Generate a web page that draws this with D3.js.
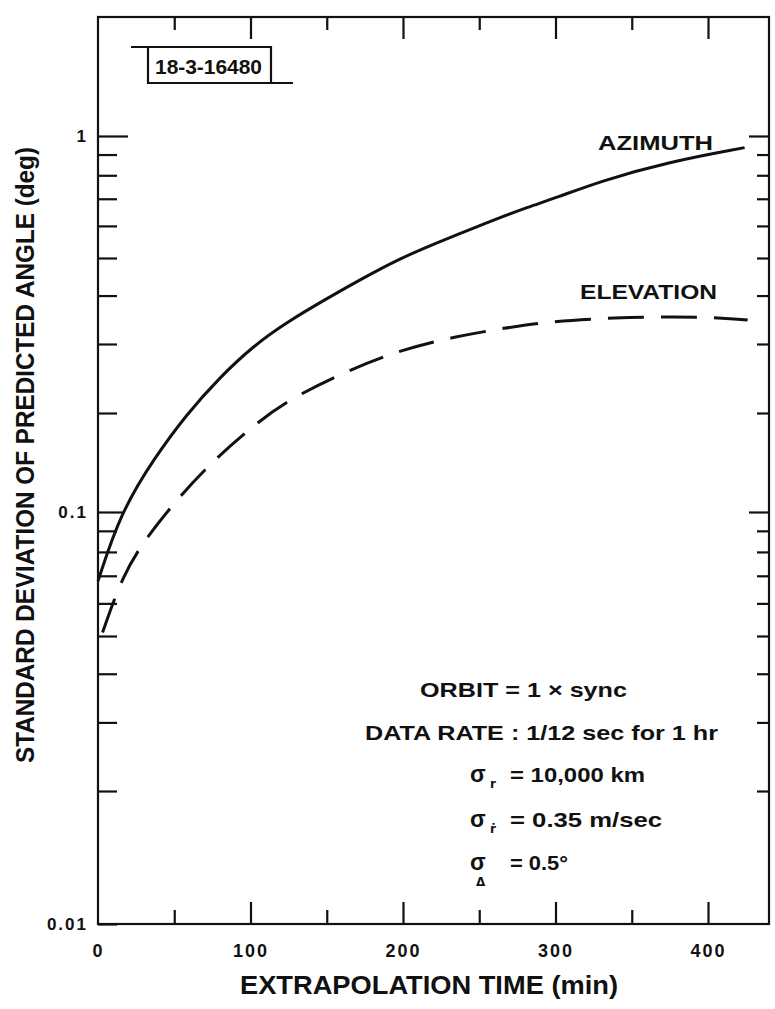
<!DOCTYPE html>
<html>
<head>
<meta charset="utf-8">
<script src="https://cdn.jsdelivr.net/npm/d3@7"></script>
<style>
    body { margin: 0; background: #fff; }
    text { font-family: "Liberation Sans", Arial, sans-serif; font-weight: bold; fill: #111; }
</style>
</head>
<body>
<div id="container"></div>
<script>
// azimuth curve (solid)
const azTime  = [0, 15, 37, 58, 80, 102, 124, 152, 174, 196, 218, 240, 260, 282, 300, 330, 374, 424];
const azValue = [0.068, 0.1, 0.146, 0.198, 0.247, 0.297, 0.342, 0.397, 0.444, 0.494, 0.537, 0.580, 0.622, 0.668, 0.703, 0.775, 0.863, 0.936];

// elevation curve (dashed)
const elTime  = [3, 16, 31, 51, 72, 98, 124, 165, 199, 233, 267, 296, 340, 377, 413, 426];
const elValue = [0.051, 0.07, 0.086, 0.108, 0.138, 0.177, 0.216, 0.258, 0.290, 0.313, 0.330, 0.343, 0.351, 0.353, 0.350, 0.346];

// axis ticks
const xMajorTicks = [100, 200, 300, 400];
const xMinorTicks = [50, 150, 250, 350];
const xLabels = [0, 100, 200, 300, 400];
const yMajorTicks = [0.01, 0.1, 1];
const yMinorTicks = [0.02, 0.03, 0.04, 0.05, 0.06, 0.07, 0.08, 0.09,
                     0.2, 0.3, 0.4, 0.5, 0.6, 0.7, 0.8, 0.9];
const yLabels = ["0.01", "0.1", "1"];

const width = 775;
const height = 1009;
const plotLeft = 98, plotRight = 769, plotTop = 17, plotBottom = 924;

const x = d3.scaleLinear()
    .domain([0, 440])
    .range([plotLeft, plotRight]);

// log scale, pinned to the hand-drafted paper (its decades are a bit uneven)
const y = d3.scaleLog()
    .domain([0.01, 0.02, 0.05, 0.1, 0.2, 0.3, 0.5, 1])
    .range([plotBottom, 791, 636, 512, 413, 344, 258, 136]);

const svg = d3.create("svg")
    .attr("width", width)
    .attr("height", height);

// frame
svg.append("rect")
    .attr("x", plotLeft).attr("y", plotTop)
    .attr("width", plotRight - plotLeft).attr("height", plotBottom - plotTop)
    .attr("fill", "none")
    .attr("stroke", "#111")
    .attr("stroke-width", 2.2);

function styleTicks(g) {
    g.select(".domain").remove();
    g.selectAll(".tick line").attr("stroke", "#111").attr("stroke-width", 2.2);
}

// bottom ticks (pointing up)
svg.append("g")
    .attr("transform", `translate(0,${plotBottom})`)
    .call(d3.axisTop(x).tickValues(xMajorTicks).tickSize(22).tickFormat(""))
    .call(styleTicks);
svg.append("g")
    .attr("transform", `translate(0,${plotBottom})`)
    .call(d3.axisTop(x).tickValues(xMinorTicks).tickSize(14).tickFormat(""))
    .call(styleTicks);

// top ticks (pointing down)
svg.append("g")
    .attr("transform", `translate(0,${plotTop})`)
    .call(d3.axisBottom(x).tickValues(xMajorTicks).tickSize(22).tickFormat(""))
    .call(styleTicks);
svg.append("g")
    .attr("transform", `translate(0,${plotTop})`)
    .call(d3.axisBottom(x).tickValues(xMinorTicks).tickSize(13).tickFormat(""))
    .call(styleTicks);

// x labels
svg.append("g")
    .attr("transform", `translate(0,${plotBottom})`)
    .call(d3.axisBottom(x).tickValues(xLabels).tickSize(0).tickPadding(20))
    .call(g => g.select(".domain").remove())
    .call(g => g.selectAll("text")
        .style("font-size", "18px")
        .style("letter-spacing", "2px")
        .style("font-family", "'Liberation Sans', Arial, sans-serif")
        .style("font-weight", "bold")
        .attr("fill", "#111"));

// left ticks (pointing right)
const leftLen = v => v === 1 ? 30 : v === 0.1 ? 25 : 19;
svg.append("g")
    .attr("transform", `translate(${plotLeft},0)`)
    .call(d3.axisRight(y).tickValues(yMajorTicks.concat(yMinorTicks)).tickFormat(""))
    .call(styleTicks)
    .call(g => g.selectAll(".tick line").attr("x2", d => leftLen(d)));

// right ticks (pointing left)
const rightLen = v => v === 1 || v === 0.1 ? 20 : 12;
svg.append("g")
    .attr("transform", `translate(${plotRight},0)`)
    .call(d3.axisLeft(y).tickValues([0.1, 1].concat(yMinorTicks)).tickFormat(""))
    .call(styleTicks)
    .call(g => g.selectAll(".tick line").attr("x2", d => -rightLen(d)));

// y labels
svg.append("g")
    .attr("transform", `translate(${plotLeft},0)`)
    .call(d3.axisLeft(y).tickValues(yMajorTicks).tickSize(0).tickPadding(10)
        .tickFormat((d, i) => yLabels[i]))
    .call(g => g.select(".domain").remove())
    .call(g => g.selectAll("text")
        .style("font-size", "17px")
        .style("letter-spacing", "2px")
        .style("font-family", "'Liberation Sans', Arial, sans-serif")
        .style("font-weight", "bold")
        .attr("fill", "#111"));

// curves (basis smooths the hand-read points)
const line = d3.line()
    .x(d => x(d[0]))
    .y(d => y(d[1]))
    .curve(d3.curveBasis);

svg.append("path")
    .datum(d3.zip(azTime, azValue))
    .attr("fill", "none")
    .attr("stroke", "#111")
    .attr("stroke-width", 3)
    .attr("d", line);

svg.append("path")
    .datum(d3.zip(elTime, elValue))
    .attr("fill", "none")
    .attr("stroke", "#111")
    .attr("stroke-width", 3)
    .attr("stroke-dasharray", "36,17")
    .attr("d", line);

// curve names
svg.append("text")
    .attr("x", 598).attr("y", 150)
    .attr("textLength", 115).attr("lengthAdjust", "spacingAndGlyphs")
    .style("font-size", "20px")
    .text("AZIMUTH");
svg.append("text")
    .attr("x", 580).attr("y", 299)
    .attr("textLength", 137).attr("lengthAdjust", "spacingAndGlyphs")
    .style("font-size", "20px")
    .text("ELEVATION");

// axis titles
svg.append("text")
    .attr("x", 240).attr("y", 994)
    .attr("textLength", 378).attr("lengthAdjust", "spacingAndGlyphs")
    .style("font-size", "25px")
    .text("EXTRAPOLATION TIME (min)");

svg.append("text")
    .attr("transform", "translate(34,763) rotate(-90)")
    .attr("textLength", 616).attr("lengthAdjust", "spacingAndGlyphs")
    .style("font-size", "26px")
    .text("STANDARD DEVIATION OF PREDICTED ANGLE (deg)");

// figure number box
svg.append("path")
    .attr("d", "M131,47H271V83M148,47V83H293")
    .attr("fill", "none")
    .attr("stroke", "#111")
    .attr("stroke-width", 2.2);
svg.append("text")
    .attr("x", 155).attr("y", 74)
    .attr("textLength", 107).attr("lengthAdjust", "spacingAndGlyphs")
    .style("font-size", "20px")
    .text("18-3-16480");

// parameter notes
svg.append("text")
    .attr("x", 420).attr("y", 697)
    .attr("textLength", 207).attr("lengthAdjust", "spacingAndGlyphs")
    .style("font-size", "21px")
    .text("ORBIT = 1 × sync");
svg.append("text")
    .attr("x", 365).attr("y", 740)
    .attr("textLength", 353).attr("lengthAdjust", "spacingAndGlyphs")
    .style("font-size", "21px")
    .text("DATA RATE : 1/12 sec for 1 hr");

const sigmaRows = [
    { sub: "r", text: "= 10,000 km", y: 782, len: 135, subDy: 6 },
    { sub: "ṙ", text: "= 0.35 m/sec", y: 827, len: 152, subDy: 6 },
    { sub: "Δ", text: "= 0.5°", y: 870, len: 58, subDy: 16 }
];
sigmaRows.forEach(r => {
    svg.append("text")
        .attr("x", 470).attr("y", r.y)
        .style("font-size", "23px")
        .text("σ");
    svg.append("text")
        .attr("x", r.sub === "Δ" ? 476 : 490).attr("y", r.y + r.subDy)
        .style("font-size", "12px")
        .style("font-family", "'DejaVu Sans', sans-serif")
        .text(r.sub);
    svg.append("text")
        .attr("x", 510).attr("y", r.y)
        .attr("textLength", r.len).attr("lengthAdjust", "spacingAndGlyphs")
        .style("font-size", "21px")
        .text(r.text);
});

document.getElementById("container").append(svg.node());
</script>
</body>
</html>
